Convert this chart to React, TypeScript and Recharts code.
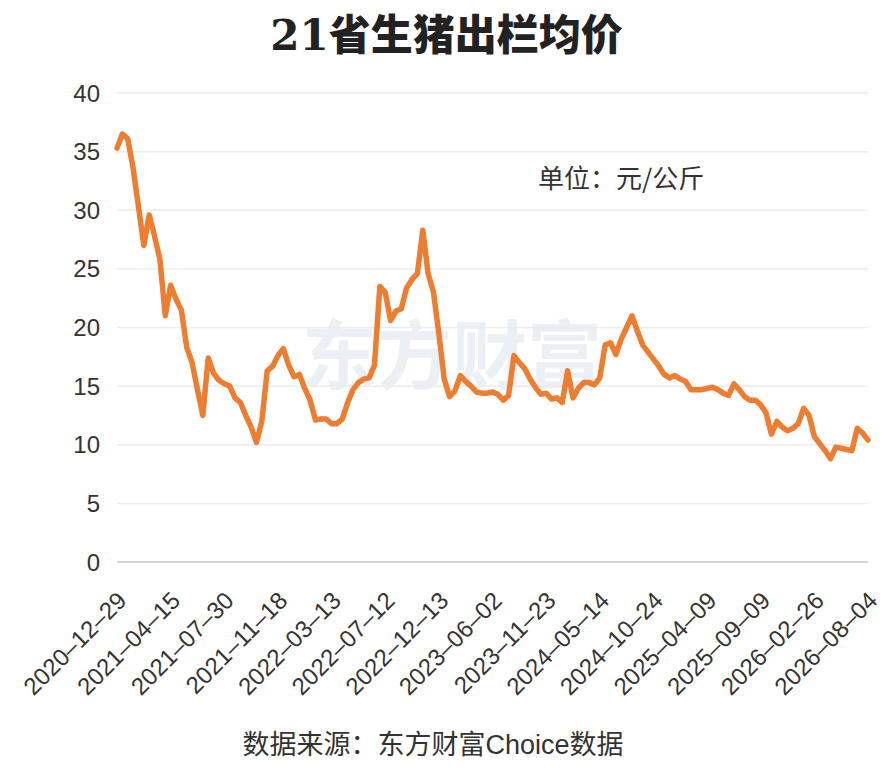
import { LineChart, Line, XAxis, YAxis, CartesianGrid } from "recharts";

// 21省生猪出栏均价 (元/公斤), 10 points per label interval
const prices = [
  35.3, 36.5, 36.1, 33.6, 30.3, 27.0, 29.6, 27.8, 25.8, 21.0,
  23.6, 22.4, 21.5, 18.3, 17.0, 14.7, 12.5, 17.4, 16.1, 15.5,
  15.2, 15.0, 14.0, 13.6, 12.5, 11.5, 10.2, 12.0, 16.3, 16.7,
  17.6, 18.2, 16.8, 15.8, 16.0, 14.8, 13.8, 12.1, 12.2, 12.2,
  11.8, 11.8, 12.2, 13.6, 14.7, 15.3, 15.6, 15.7, 16.8, 23.5,
  23.0, 20.6, 21.4, 21.6, 23.4, 24.1, 24.6, 28.3, 24.6, 23.0,
  19.5, 15.6, 14.1, 14.6, 15.9, 15.4, 15.0, 14.5, 14.4, 14.4,
  14.5, 14.3, 13.8, 14.2, 17.6, 17.0, 16.5, 15.6, 14.9, 14.3,
  14.4, 13.9, 14.0, 13.6, 16.3, 14.0, 14.8, 15.3, 15.3, 15.1,
  15.7, 18.5, 18.7, 17.7, 19.0, 20.0, 21.0, 19.7, 18.5, 17.9,
  17.3, 16.7, 16.0, 15.7, 15.9, 15.6, 15.4, 14.7, 14.7, 14.7,
  14.8, 14.9, 14.7, 14.4, 14.2, 15.2, 14.7, 14.1, 13.8, 13.8,
  13.4, 12.7, 10.9, 12.0, 11.5, 11.2, 11.4, 11.8, 13.1, 12.5,
  10.7, 10.1, 9.5, 8.8, 9.8, 9.7, 9.6, 9.5, 11.4, 11.0,
  10.4,
];

const tickLabels = [
  "2020–12–29", "2021–04–15", "2021–07–30", "2021–11–18", "2022–03–13",
  "2022–07–12", "2022–12–13", "2023–06–02", "2023–11–23", "2024–05–14",
  "2024–10–24", "2025–04–09", "2025–09–09", "2026–02–26", "2026–08–04",
];

const yTicks = [0, 5, 10, 15, 20, 25, 30, 35, 40];

const step = 10;
const data = prices.map((price, i) => ({ i, price }));
const xTicks = tickLabels.map((_, k) => k * step);

const sans = "'Liberation Sans', Arial, 'Noto Sans CJK SC', sans-serif";

function XTick(props: any) {
  const { x, y, payload } = props;
  const bx = x + 11;
  const by = y + 40;
  return (
    <text
      x={bx}
      y={by}
      transform={`rotate(-45 ${bx} ${by})`}
      textAnchor="end"
      fontSize={24}
      fill="#333"
      fontFamily={sans}
    >
      {tickLabels[Math.round(payload.value / step)]}
    </text>
  );
}

export default function App() {
  return (
    <div style={{ position: "absolute", left: 0, top: 0, width: 893, height: 771, background: "#fff" }}>
      <div
        style={{
          position: "absolute",
          left: 302,
          top: 306,
          fontSize: 75,
          fontWeight: 700,
          color: "#ebf0f6",
          fontFamily: "'Noto Sans CJK SC', sans-serif",
          lineHeight: "90px",
          whiteSpace: "nowrap",
        }}
      >
        东方财富
      </div>
      <div
        style={{
          position: "absolute",
          left: 0,
          width: 893,
          top: 8,
          textAlign: "center",
          fontSize: 42,
          fontWeight: 900,
          color: "#222",
          fontFamily: "'DejaVu Serif', 'Noto Sans CJK SC', serif",
          lineHeight: "56px",
        }}
      >
        21省生猪出栏均价
      </div>
      <div style={{ position: "absolute", top: 0, left: 0 }}>
        <LineChart width={893} height={771} data={data} margin={{ top: 93, right: 25, left: 0, bottom: 79 }}>
          <CartesianGrid horizontal vertical={false} stroke="#ececec" strokeWidth={1.5} />
          <XAxis
            dataKey="i"
            type="number"
            domain={[0, prices.length - 1]}
            ticks={xTicks}
            interval={0}
            height={130}
            tickLine={false}
            tickSize={0}
            tickMargin={0}
            axisLine={{ stroke: "#d4d4d4", strokeWidth: 2 }}
            tick={<XTick />}
          />
          <YAxis
            domain={[0, 40]}
            ticks={yTicks}
            width={117}
            axisLine={false}
            tickLine={false}
            tickSize={0}
            tickMargin={17}
            tick={{ fontSize: 24, fill: "#333", fontFamily: sans }}
          />
          <Line
            type="linear"
            dataKey="price"
            stroke="#ed7d31"
            strokeWidth={5.5}
            strokeLinejoin="round"
            strokeLinecap="round"
            dot={false}
            activeDot={false}
            isAnimationActive={false}
          />
        </LineChart>
      </div>
      <div
        style={{
          position: "absolute",
          left: 538,
          top: 160,
          fontSize: 26,
          color: "#333",
          fontFamily: "'Noto Sans CJK SC', sans-serif",
          lineHeight: "34px",
          whiteSpace: "nowrap",
        }}
      >
        单位：元/公斤
      </div>
      <div
        style={{
          position: "absolute",
          left: 0,
          width: 866,
          top: 727,
          textAlign: "center",
          fontSize: 27,
          color: "#333",
          fontFamily: sans,
          lineHeight: "36px",
          whiteSpace: "nowrap",
        }}
      >
        数据来源：东方财富Choice数据
      </div>
    </div>
  );
}
